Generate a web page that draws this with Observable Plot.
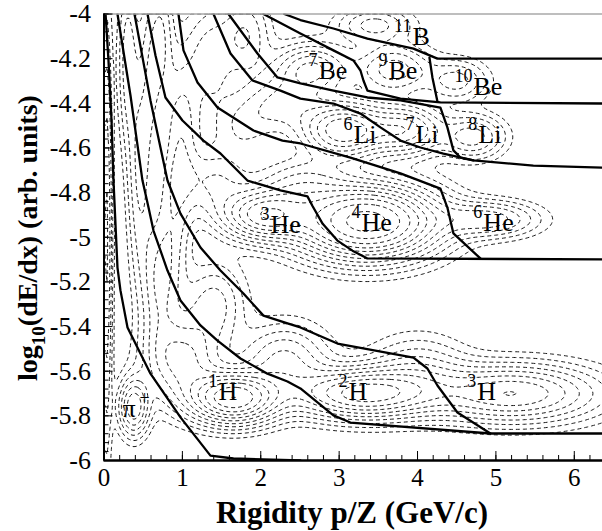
<!DOCTYPE html>
<html>
<head>
<meta charset="utf-8">
<script src="https://cdn.jsdelivr.net/npm/d3@7"></script>
<script src="https://cdn.jsdelivr.net/npm/@observablehq/plot@0.6"></script>
<style>
  body { margin: 0; background: #fff; }
  svg { display: block; }
</style>
</head>
<body>
<div id="chart"></div>
<script>
// Axis ticks
const xMajor = [0, 1, 2, 3, 4, 5, 6];
const xMinor = d3.range(0, 6.36, 0.2);
const yMajor = [-6, -5.8, -5.6, -5.4, -5.2, -5, -4.8, -4.6, -4.4, -4.2, -4];
const yMinor = d3.range(-6, -3.999, 0.04);

// Isotope separation boundaries, [p/Z, log10 dE/dx]
const pionProtonEdge = [[0.02,-4.0],[0.057,-4.207],[0.096,-4.477],[0.121,-4.746],[0.172,-5.136],[0.21,-5.238],[0.30,-5.404],[0.593,-5.611],[0.976,-5.807],[1.358,-5.978],[1.652,-5.991],[2.506,-6.0]];
const protonDeuteronEdge = [[0.172,-4.0],[0.338,-4.365],[0.491,-4.746],[0.568,-4.867],[0.631,-4.97],[0.81,-5.149],[0.976,-5.283],[1.231,-5.395],[1.448,-5.463],[1.741,-5.543],[2.085,-5.611],[2.341,-5.646],[2.506,-5.677],[2.927,-5.798],[3.144,-5.83],[4.93,-5.879]];
const deuteronMass3Edge = [[0.389,-4.0],[0.593,-4.387],[0.81,-4.746],[0.976,-4.894],[1.231,-5.046],[1.486,-5.149],[1.779,-5.252],[2.034,-5.351],[2.341,-5.386],[2.506,-5.404],[2.978,-5.476],[3.948,-5.539],[4.126,-5.588],[4.254,-5.664],[4.509,-5.785],[4.93,-5.879],[6.36,-5.879]];
const mass3Mass4Edge = [[0.555,-4.0],[0.657,-4.186],[0.784,-4.374],[1.001,-4.477],[1.269,-4.567],[1.486,-4.625],[1.83,-4.746],[2.251,-4.79],[2.596,-4.817],[2.66,-4.86],[2.79,-4.94],[2.978,-5.015],[3.17,-5.06],[3.361,-5.095],[6.36,-5.099]];
const mass4Mass6Edge = [[0.95,-4.0],[1.014,-4.163],[1.193,-4.307],[1.448,-4.419],[1.907,-4.522],[2.277,-4.567],[2.506,-4.58],[3.144,-4.643],[3.782,-4.714],[4.292,-4.782],[4.381,-4.867],[4.458,-4.983],[4.802,-5.095]];
const mass6Mass7Edge = [[1.397,-4.0],[1.614,-4.177],[1.894,-4.298],[2.251,-4.343],[2.506,-4.379],[2.927,-4.401],[3.272,-4.446],[3.527,-4.508],[3.782,-4.567],[4.037,-4.598],[4.33,-4.625],[4.713,-4.656],[5.478,-4.679],[6.36,-4.688]];
const lithiumBerylliumEdge = [[1.588,-4.0],[1.958,-4.177],[2.213,-4.284],[2.506,-4.311],[2.927,-4.343],[3.361,-4.374],[3.782,-4.387],[4.292,-4.419],[4.381,-4.508],[4.458,-4.611],[4.547,-4.643],[4.713,-4.656]];
const be7Be9Edge = [[2.034,-4.0],[2.506,-4.087],[2.927,-4.163],[3.182,-4.208],[3.272,-4.253],[3.31,-4.298],[3.361,-4.343],[3.782,-4.379],[4.292,-4.396],[6.36,-4.401]];
const berylliumBoronEdge = [[2.3,-4.0],[2.506,-4.027],[2.927,-4.065],[3.361,-4.11],[3.948,-4.155],[4.254,-4.2],[6.36,-4.2]];
const be9Be10Edge = [[4.152,-4.195],[4.19,-4.284],[4.254,-4.392]];

const boundaries = [pionProtonEdge, protonDeuteronEdge, deuteronMass3Edge, mass3Mass4Edge,
  mass4Mass6Edge, mass6Mass7Edge, lithiumBerylliumEdge, be7Be9Edge, berylliumBoronEdge, be9Be10Edge];

// Particle labels
const labelSymbol = ["B", "Be", "Be", "Be", "Li", "Li", "Li", "He", "He", "He", "H", "H", "H", "π"];
const labelMass   = ["11", "7", "9", "10", "6", "7", "8", "3", "4", "6", "1", "2", "3", ""];
const labelCharge = ["", "", "", "", "", "", "", "", "", "", "", "", "", "+"];
const labelX = [3.935, 2.736, 3.629, 4.713, 3.182, 3.973, 4.776, 2.124, 3.284, 4.84, 1.46, 3.118, 4.763, 0.236];
const labelY = [-4.141, -4.289, -4.289, -4.365, -4.58, -4.58, -4.58, -4.979, -4.97, -4.97, -5.731, -5.731, -5.731, -5.807];

// Event-density clusters: centre, spread and weight of each population
const blobX  = [0.38, 0.03, 1.65, 1.0, 0.7, 0.45, 0.3, 3.3, 2.3, 1.4, 0.9, 0.6, 5.2, 4.0, 2.05, 1.4, 1.0, 0.75, 3.35, 2.5, 1.8, 1.35, 4.9, 3.05, 2.3, 1.8, 3.85, 4.7, 2.65, 3.7, 4.5, 3.45];
const blobY  = [-5.76, -5.0, -5.72, -5.55, -5.2, -4.7, -4.2, -5.7, -5.55, -5.3, -4.9, -4.3, -5.7, -5.6, -4.9, -4.75, -4.5, -4.1, -4.93, -4.75, -4.5, -4.2, -4.92, -4.52, -4.4, -4.1, -4.52, -4.55, -4.25, -4.25, -4.3, -4.05];
const blobSX = [0.12, 0.05, 0.35, 0.3, 0.15, 0.1, 0.08, 0.55, 0.35, 0.25, 0.15, 0.1, 0.7, 0.4, 0.35, 0.3, 0.15, 0.1, 0.55, 0.4, 0.3, 0.2, 0.4, 0.35, 0.3, 0.2, 0.3, 0.25, 0.3, 0.3, 0.25, 0.3];
const blobSY = [0.08, 0.6, 0.07, 0.12, 0.2, 0.3, 0.25, 0.07, 0.1, 0.12, 0.25, 0.3, 0.08, 0.1, 0.07, 0.1, 0.2, 0.2, 0.1, 0.08, 0.1, 0.15, 0.05, 0.08, 0.08, 0.12, 0.07, 0.06, 0.07, 0.07, 0.06, 0.05];
const blobW  = [0.7, 0.45, 1.6, 0.6, 0.4, 0.3, 0.25, 1.2, 0.45, 0.35, 0.3, 0.25, 0.9, 0.3, 1.2, 0.4, 0.3, 0.25, 2.2, 0.5, 0.3, 0.25, 0.5, 1.3, 0.4, 0.3, 0.8, 0.5, 0.6, 0.5, 0.35, 0.35];
const contourLevels = [0.06, 0.12, 0.2, 0.3, 0.42, 0.56, 0.72, 0.9, 1.1, 1.35, 1.65, 2.0];

function density(x, y) {
  let s = 0;
  for (let i = 0; i < blobX.length; i++) {
    const u = (x - blobX[i]) / blobSX[i];
    const v = (y - blobY[i]) / blobSY[i];
    s += blobW[i] * Math.exp(-0.5 * (u * u + v * v));
  }
  return s;
}

const boundaryRows = boundaries.flatMap((pts, id) => pts.map(([x, y]) => ({x, y, id})));
const labels = labelSymbol.map((sym, i) => ({sym, mass: labelMass[i], charge: labelCharge[i], x: labelX[i], y: labelY[i]}));

const serif = "'Liberation Serif', 'Times New Roman', Times, serif";
const fmt = d => String(+d.toFixed(1));

const chart = Plot.plot({
  width: 602,
  height: 531,
  marginLeft: 103.5,
  marginTop: 13.5,
  marginRight: 0,
  marginBottom: 71,
  style: {fontFamily: serif, background: "white", color: "black", overflow: "visible"},
  x: {domain: [0, 6.36]},
  y: {domain: [-6, -4]},
  marks: [
    Plot.contour({
      value: density, x1: 0, x2: 6.36, y1: -6, y2: -4, pixelSize: 2,
      thresholds: contourLevels, fill: "none", stroke: "black",
      strokeWidth: 0.9, strokeDasharray: "4,3", clip: true
    }),
    Plot.line(boundaryRows, {x: "x", y: "y", z: "id", stroke: "black", strokeWidth: 2.3, clip: true}),
    Plot.ruleY([-4], {stroke: "#a8a8a8", strokeWidth: 1.5}),
    Plot.ruleX([0], {stroke: "black", strokeWidth: 2}),
    Plot.ruleY([-6], {stroke: "black", strokeWidth: 2.5}),
    // inward tick marks
    Plot.axisX(xMinor, {tickSize: -5, tickFormat: () => "", label: null}),
    Plot.axisX(xMajor, {tickSize: -9, tickFormat: () => "", label: null}),
    Plot.axisY(yMinor, {tickSize: -5, tickFormat: () => "", label: null}),
    Plot.axisY(yMajor, {tickSize: -9, tickFormat: () => "", label: null}),
    // tick labels
    Plot.text(xMajor, {x: d => d, text: fmt, frameAnchor: "bottom", lineAnchor: "top", dy: 8, fontSize: 25}),
    Plot.text(yMajor, {y: d => d, text: fmt, frameAnchor: "left", textAnchor: "end", dx: -13, fontSize: 26}),
    // particle labels
    Plot.text(labels, {x: "x", y: "y", text: "sym", textAnchor: "start", lineAnchor: "bottom", fontSize: 26}),
    Plot.text(labels, {x: "x", y: "y", text: "mass", textAnchor: "end", lineAnchor: "bottom", dy: -13, dx: -1, fontSize: 18}),
    Plot.text(labels, {x: "x", y: "y", text: "charge", textAnchor: "start", lineAnchor: "bottom", dy: -13, dx: 17, fontSize: 18})
  ]
});

// Axis titles (with subscript)
const svg = d3.select(chart);
svg.append("text")
  .attr("x", 352).attr("y", 523)
  .attr("text-anchor", "middle")
  .attr("font-family", serif).attr("font-weight", "bold").attr("font-size", 31)
  .text("Rigidity p/Z (GeV/c)");
const yTitle = svg.append("text")
  .attr("transform", "translate(37,238) rotate(-90)")
  .attr("text-anchor", "middle")
  .attr("font-family", serif).attr("font-weight", "bold").attr("font-size", 28);
yTitle.append("tspan").text("log");
yTitle.append("tspan").attr("font-size", 19).attr("dy", 8).text("10");
yTitle.append("tspan").attr("dy", -8).text("(dE/dx) (arb. units)");

document.getElementById("chart").append(chart);
</script>
</body>
</html>
